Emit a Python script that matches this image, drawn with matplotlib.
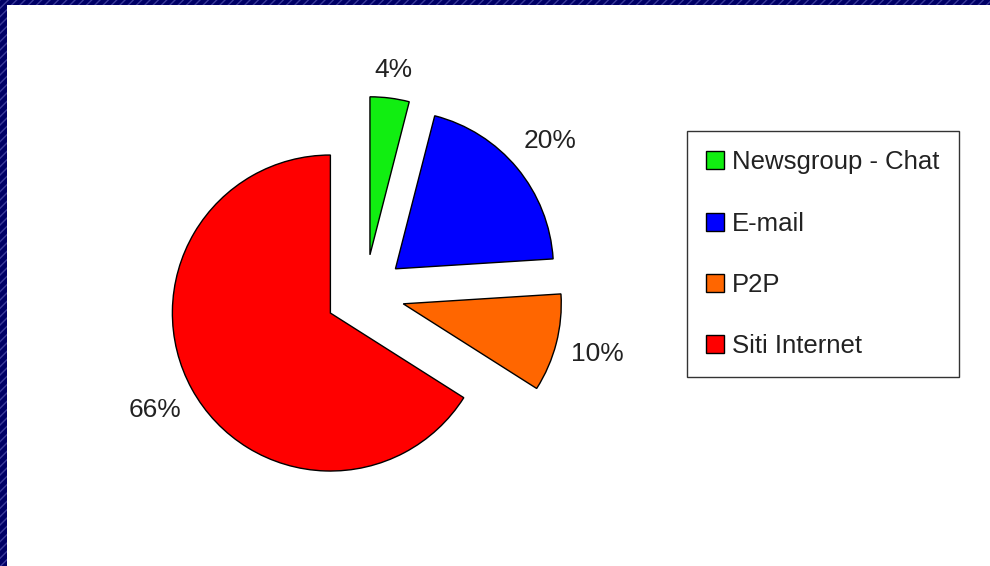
import numpy as np
import matplotlib.pyplot as plt
from matplotlib.patches import Rectangle

# Data (drawing order: starts at top, counter-clockwise)
categories = ['Siti Internet', 'P2P', 'E-mail', 'Newsgroup - Chat']
values = [66, 10, 20, 4]
pct_labels = ['66%', '10%', '20%', '4%']
colors = ['#FF0000', '#FF6600', '#0000FF', '#11EE11']
label_dist = [1.27, 1.27, 1.27, 1.18]

plt.rcParams['font.family'] = ['Liberation Sans', 'DejaVu Sans']

W, H = 990, 566
fig = plt.figure(figsize=(W / 100, H / 100), dpi=100)

# navy hatched frame with a white panel inside
fig.patch.set_facecolor('#000066')
fig.patch.set_edgecolor('#3a3a99')
fig.patch.set_hatch('////')
fig.patch.set_linewidth(0)
fig.patches.append(Rectangle((7 / W, 0), 1, 1 - 5 / H, transform=fig.transFigure,
                             facecolor='white', edgecolor='none', zorder=-10))

# pie axes: centre at (365, 294) px, radius 158 px
r = 158
cx, cy = 365, H - 294
xr, yr = 1.9, 1.6
ax = fig.add_axes([(cx - xr * r) / W, (cy - yr * r) / H, 2 * xr * r / W, 2 * yr * r / H])
ax.set_zorder(5)
ax.patch.set_visible(False)

explode = [0.25] * 4
wedges, texts = ax.pie(values, labels=pct_labels, colors=colors, startangle=90,
                       counterclock=True, explode=explode, labeldistance=1.27,
                       wedgeprops=dict(edgecolor='black', linewidth=1),
                       textprops=dict(fontsize=19, color='#222222'))
for w, t, d, e in zip(wedges, texts, label_dist, explode):
    ang = np.deg2rad((w.theta1 + w.theta2) / 2)
    t.set_position(((d + e) * np.cos(ang), (d + e) * np.sin(ang)))
    t.set_horizontalalignment('center')
    t.set_verticalalignment('center')

ax.set_xlim(-xr, xr)
ax.set_ylim(-yr, yr)
ax.set_aspect('equal')
ax.axis('off')

# legend, listed in reverse order
leg = fig.legend(wedges[::-1], categories[::-1], loc='upper left',
                 bbox_to_anchor=(687 / W, 1 - 131 / H), borderaxespad=0,
                 fontsize=18.5, frameon=True, fancybox=False, edgecolor='black',
                 handlelength=0.7, handleheight=0.7, handletextpad=0.3,
                 labelspacing=1.45, borderpad=0.75)
leg.set_zorder(6)
leg.get_frame().set_linewidth(1)
for txt in leg.get_texts():
    txt.set_color('#222222')

fig.savefig('out.png', dpi=100)
